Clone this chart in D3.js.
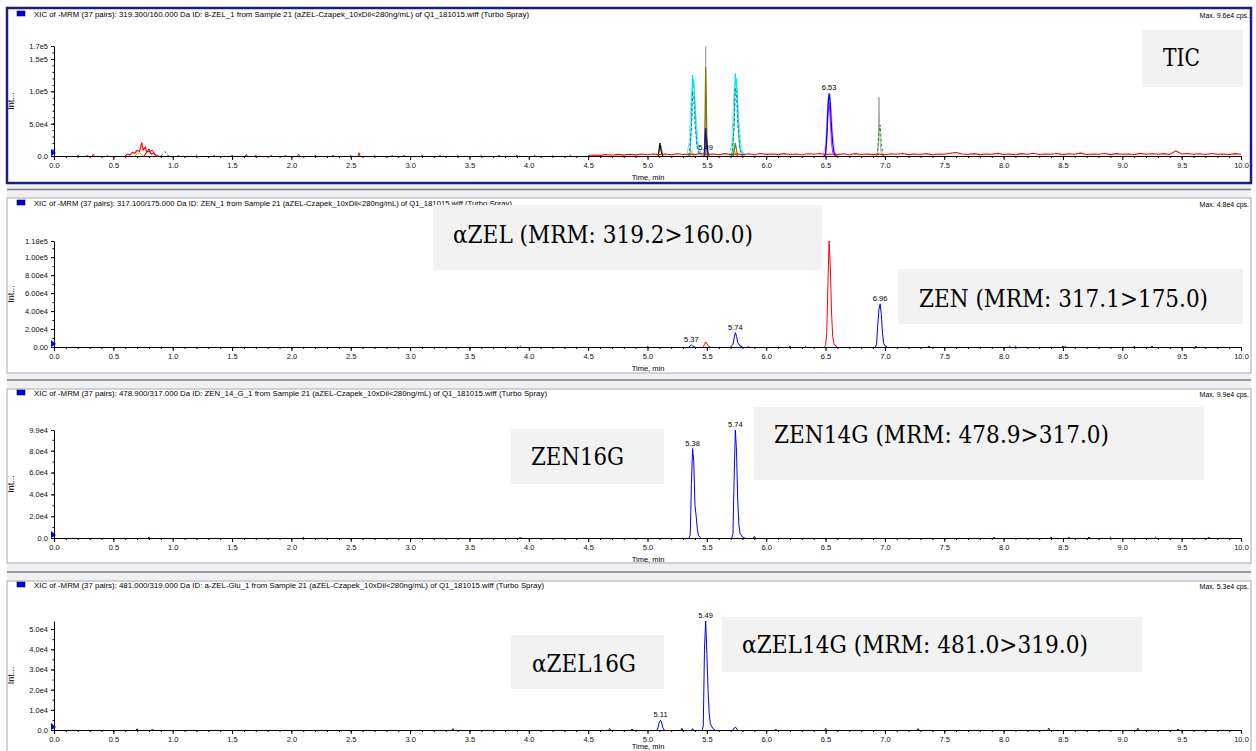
<!DOCTYPE html>
<html>
<head>
<meta charset="utf-8">
<script src="https://cdn.jsdelivr.net/npm/d3@7"></script>
<style>
body{margin:0;background:#fff}
svg{display:block}
</style>
</head>
<body>
<div id="Canvas"></div>
<script>
// ---- 資料 (讀圖估計) ----
const xMajor = [0.0,0.5,1.0,1.5,2.0,2.5,3.0,3.5,4.0,4.5,5.0,5.5,6.0,6.5,7.0,7.5,8.0,8.5,9.0,9.5,10.0]

const titles = [
  "XIC of -MRM (37 pairs): 319.300/160.000 Da ID: 8-ZEL_1 from Sample 21 (aZEL-Czapek_10xDil<280ng/mL) of Q1_181015.wiff (Turbo Spray)",
  "XIC of -MRM (37 pairs): 317.100/175.000 Da ID: ZEN_1 from Sample 21 (aZEL-Czapek_10xDil<280ng/mL) of Q1_181015.wiff (Turbo Spray)",
  "XIC of -MRM (37 pairs): 478.900/317.000 Da ID: ZEN_14_G_1 from Sample 21 (aZEL-Czapek_10xDil<280ng/mL) of Q1_181015.wiff (Turbo Spray)",
  "XIC of -MRM (37 pairs): 481.000/319.000 Da ID: a-ZEL-Glu_1 from Sample 21 (aZEL-Czapek_10xDil<280ng/mL) of Q1_181015.wiff (Turbo Spray)"
]
const maxTexts = ["Max. 9.6e4 cps.","Max. 4.8e4 cps.","Max. 9.9e4 cps.","Max. 5.3e4 cps."]

// y 軸刻度
const ticY = [0,5e4,1e5,1.5e5,1.7e5]
const ticYLabels = ["0.0","5.0e4","1.0e5","1.5e5","1.7e5"]
const zenY = [0,2e4,4e4,6e4,8e4,1e5,1.18e5]
const zenYLabels = ["0.00","2.00e4","4.00e4","6.00e4","8.00e4","1.00e5","1.18e5"]
const zen14Y = [0,2e4,4e4,6e4,8e4,9.9e4]
const zen14YLabels = ["0.0","2.0e4","4.0e4","6.0e4","8.0e4","9.9e4"]
const azel14Y = [0,1e4,2e4,3e4,4e4,5e4]
const azel14YLabels = ["0.0","1.0e4","2.0e4","3.0e4","4.0e4","5.0e4"]

// ---- TIC 各通道 [time, cps] ----
const ticRedNoise = [[4.50,800],[4.55,1500],[4.60,1000],[4.65,2200],[4.70,1200],[4.75,2500],[4.80,1400],[4.85,2800],[4.90,1800],[4.95,3000],
  [5.00,2000],[5.05,3200],[5.10,2200],[5.15,3000],[5.20,2000],[5.25,3500],[5.30,2400],[5.35,3000],[5.40,2200],[5.45,3800],
  [5.50,2600],[5.55,3200],[5.60,2000],[5.65,3600],[5.70,2400],[5.75,3000],[5.80,2200],[5.85,3400],[5.90,2000],[5.95,3800],
  [6.00,2500],[6.05,3200],[6.10,2200],[6.15,3600],[6.20,2400],[6.25,3000],[6.30,2000],[6.35,3500],[6.40,2600],[6.45,3800],
  [6.50,2400],[6.55,3000],[6.60,2200],[6.65,3400],[6.70,2000],[6.75,3600],[6.80,2400],[6.85,3200],[6.90,2200],[6.95,3000],
  [7.00,2000],[7.05,3400],[7.10,2600],[7.15,3800],[7.20,2200],[7.25,3000],[7.30,2400],[7.35,3600],[7.40,2000],[7.45,3200],
  [7.50,2600],[7.55,4200],[7.60,5500],[7.65,3000],[7.70,2400],[7.75,3600],[7.80,2200],[7.85,3000],[7.90,2600],[7.95,4000],
  [8.00,2400],[8.05,3200],[8.10,2000],[8.15,3600],[8.20,2800],[8.25,4200],[8.30,2400],[8.35,3000],[8.40,2600],[8.45,3800],
  [8.50,2200],[8.55,3400],[8.60,2800],[8.65,4400],[8.70,2400],[8.75,3200],[8.80,2600],[8.85,3800],[8.90,2200],[8.95,3600],
  [9.00,2800],[9.05,3200],[9.10,2400],[9.15,4000],[9.20,2600],[9.25,3400],[9.30,2800],[9.35,3600],[9.40,2400],[9.45,8000],
  [9.50,3000],[9.55,3800],[9.60,2600],[9.65,3400],[9.70,2400],[9.75,3800],[9.80,2800],[9.85,3200],[9.90,2400],[9.95,3600],[10.00,2600]]
const ticRedBump = [[0.60,0],[0.62,3000],[0.64,1500],[0.66,6000],[0.68,4000],[0.70,9000],[0.72,7000],[0.74,21000],[0.75,9000],
  [0.77,14000],[0.78,6000],[0.80,8000],[0.82,3000],[0.84,4000],[0.86,1000],[0.88,0]]
const ticRedSpecks = [[0.20,1200],[0.28,900],[0.33,2500],[0.45,1000],[1.05,900],[1.20,1200],[1.35,800],[1.50,1000],[1.62,2500],[1.70,900],
  [1.83,1100],[1.95,800],[2.06,3000],[2.20,1000],[2.35,900],[2.50,1200],[2.57,5000],[2.70,1000],[2.85,900],[2.95,1200],
  [3.10,900],[3.25,1300],[3.40,1000],[3.60,1200],[3.75,900],[3.90,1100],[4.05,1300],[4.20,1000],[4.35,1400]]
const ticDarkRed = [[0.76,0],[0.78,6000],[0.80,11000],[0.81,7000],[0.83,9000],[0.85,2000],[0.87,0]]
const ticGreen = [[[0.90,0],[0.92,4000],[0.935,7000],[0.95,2000],[0.97,0]],
  [[6.93,0],[6.94,10000],[6.95,38000],[6.96,48000],[6.965,35000],[6.97,20000],[6.98,6000],[6.99,0]]]
const ticYellow = [[[0.68,0],[0.70,3000],[0.72,5000],[0.74,2000],[0.76,0]],
  [[5.36,0],[5.37,9000],[5.38,4000],[5.39,0]], [[5.72,0],[5.73,10000],[5.74,5000],[5.75,0]]]
const ticLightBlue = [[[5.33,0],[5.35,20000],[5.37,100000],[5.39,110000],[5.41,60000],[5.43,15000],[5.46,0]],
  [[5.69,0],[5.71,20000],[5.73,105000],[5.75,112000],[5.77,55000],[5.79,12000],[5.82,0]],
  [[6.48,0],[6.50,20000],[6.52,92000],[6.54,95000],[6.56,40000],[6.58,5000],[6.60,0]]]
const ticCyan = [[[5.34,0],[5.36,6000],[5.37,55000],[5.375,95000],[5.38,125000],[5.385,105000],[5.39,118000],[5.40,75000],[5.41,35000],[5.42,15000],[5.44,4000],[5.46,0]],
  [[5.70,0],[5.72,9000],[5.73,60000],[5.735,100000],[5.74,128000],[5.745,110000],[5.75,120000],[5.76,70000],[5.77,30000],[5.78,12000],[5.80,3000],[5.82,0]]]
const ticTeal = [[[5.35,0],[5.37,40000],[5.38,100000],[5.39,90000],[5.40,50000],[5.42,10000],[5.44,0]],
  [[5.71,0],[5.73,45000],[5.74,105000],[5.75,95000],[5.76,50000],[5.78,8000],[5.80,0]]]
const ticOlive = [[[5.09,0],[5.10,10000],[5.11,17000],[5.12,8000],[5.13,0]],
  [[5.475,0],[5.48,8000],[5.485,60000],[5.49,138000],[5.495,90000],[5.50,30000],[5.51,5000],[5.52,0]],
  [[5.72,0],[5.73,8000],[5.74,20000],[5.75,9000],[5.76,0]]]
const ticGrey = [[[5.485,0],[5.488,60000],[5.49,169000],[5.492,60000],[5.495,0]],
  [[6.94,0],[6.945,30000],[6.95,91000],[6.955,50000],[6.96,20000],[6.97,5000],[6.98,0]]]
const ticNavy = [[5.48,0],[5.485,25000],[5.49,43000],[5.495,30000],[5.50,15000],[5.51,0]]
const ticBlack = [[5.09,0],[5.10,14000],[5.105,20000],[5.11,12000],[5.12,3000],[5.13,0]]
const ticBlue = [[6.49,0],[6.50,4000],[6.51,30000],[6.52,75000],[6.53,97000],[6.535,90000],[6.54,80000],[6.55,45000],[6.56,20000],[6.57,6000],[6.59,0]]
const ticMagenta = [[6.50,0],[6.51,20000],[6.52,60000],[6.53,84000],[6.54,55000],[6.55,20000],[6.56,5000],[6.58,0]]
const ticPeakLabels = [[6.53,97000,"6.53"],[5.49,5400,"5.49"]]

// ---- ZEN 317.1>175 (藍) 與 αZEL 319.2>160 (紅) ----
const zenRed = [[[5.47,0],[5.48,3000],[5.49,5600],[5.50,3500],[5.51,1500],[5.52,400],[5.53,0]],
  [[6.49,0],[6.50,1500],[6.51,15000],[6.52,70000],[6.53,118000],[6.54,90000],[6.55,40000],[6.56,12000],[6.57,4000],[6.58,1500],[6.60,0]]]
const zenBlue = [[[5.35,0],[5.36,1500],[5.37,2300],[5.38,1200],[5.40,0]],
  [[5.70,0],[5.72,3000],[5.73,10000],[5.74,16000],[5.75,12000],[5.76,5000],[5.78,1000],[5.80,0]],
  [[6.92,0],[6.93,3000],[6.94,25000],[6.95,42000],[6.96,48000],[6.97,36000],[6.98,15000],[6.99,4000],[7.00,1500],[7.02,0]]]
const zenSpecks = [[3.93,1000],[5.00,700],[5.85,800],[6.20,700],[6.33,800],[7.37,1200],[8.05,1000],[8.10,900],[8.50,1000],[8.52,800],[9.10,700],[9.25,800],[9.62,900]]
const zenPeakLabels = [[5.37,2300,"5.37"],[5.74,16000,"5.74"],[6.96,48000,"6.96"]]

// ---- ZEN14G 478.9>317 ----
const zen14Blue = [[[5.35,0],[5.36,3000],[5.37,50000],[5.38,82000],[5.39,70000],[5.40,30000],[5.41,20000],[5.42,8000],[5.43,2000],[5.45,0]],
  [[5.71,0],[5.72,4000],[5.73,55000],[5.74,99000],[5.75,80000],[5.76,35000],[5.77,12000],[5.78,4000],[5.80,1000],[5.82,0]]]
const zen14Specks = [[0.80,800],[2.10,700],[3.93,900],[5.90,1500],[7.92,700],[8.40,800],[8.55,700],[8.72,900],[8.90,700],[9.28,800],[9.73,700]]
const zen14PeakLabels = [[5.38,82000,"5.38"],[5.74,99000,"5.74"]]

// ---- αZEL14G 481>319 ----
const azel14Blue = [[[5.08,0],[5.09,1500],[5.10,4000],[5.11,4800],[5.12,3500],[5.13,1200],[5.14,0]],
  [[5.46,0],[5.47,2000],[5.48,40000],[5.49,54000],[5.50,38000],[5.51,20000],[5.52,8000],[5.53,3000],[5.55,800],[5.57,0]],
  [[5.72,0],[5.74,1500],[5.76,0]]]
const azel14Specks = [[0.70,600],[0.83,500],[3.36,700],[4.68,700],[4.87,500],[5.29,900],[5.38,700],[6.08,500],[6.50,800],[7.28,700],[8.38,900],[9.13,900],[9.47,500]]
const azel14PeakLabels = [[5.11,4800,"5.11"],[5.49,54000,"5.49"]]

// 標註框
const notes = ["TIC","αZEL (MRM: 319.2>160.0)","ZEN (MRM: 317.1>175.0)","ZEN16G",
  "ZEN14G (MRM: 478.9>317.0)","αZEL16G","αZEL14G (MRM: 481.0>319.0)"]
// 框的位置 (x0,y0,x1,y1, 文字x, baseline, 文字寬)
const noteBoxes = [
  [1142,30,1243,87,1163,66,37],
  [433,205,822,270,453,243,300],
  [898,269,1243,324,919,307,289],
  [511,429,664,484,531,465,93],
  [754,407,1204,480,774,443,335],
  [511,635,664,689,532,672,104],
  [722,617,1142,672,742,653,346]
]

// ---- 畫布 ----
let svg = d3.select("#Canvas").append("svg")
  .attr("width",1256).attr("height",751)
  .style("font-family","'Liberation Sans', Arial, sans-serif")

let xScale = d3.scaleLinear().domain([0,10]).range([54,1241])

// 分隔條
;[[183,198,189.5],[373,389,380],[563,581,572]].forEach(s=>{
  svg.append("rect").attr("x",7).attr("y",s[0]).attr("width",1244).attr("height",s[1]-s[0]).attr("fill","#eef0f4")
  svg.append("line").attr("x1",7).attr("x2",1251).attr("y1",s[2]).attr("y2",s[2]).attr("stroke","#7d7d7d").attr("stroke-width",1.5)
})

let panels = [
  {top:8, bottom:183, frame:"#1c1c88", fw:2.5, titleY:17, base:156, yTop:46, yMax:1.7e5, ticks:ticY, labels:ticYLabels, minor:1e4, title:titles[0], max:maxTexts[0], tl:495,
   traces:[
     {c:"#a9cff0", w:1, segs:ticLightBlue},
     {c:"#c8c800", w:1, segs:ticYellow},
     {c:"#00e5ee", w:1.2, segs:ticCyan},
     {c:"#008b8b", w:1, dash:"3,2", segs:ticTeal},
     {c:"#a8a8a8", w:1, segs:ticGrey},
     {c:"#7a7a00", w:1.2, segs:ticOlive},
     {c:"#1a1a7a", w:1.5, segs:[ticNavy]},
     {c:"#000000", w:1, segs:[ticBlack]},
     {c:"#ff00ff", w:1, segs:[ticMagenta]},
     {c:"#0000ff", w:1.2, segs:[ticBlue]},
     {c:"#2e8b2e", w:1, dash:"3,2", segs:ticGreen},
     {c:"#b00000", w:1, segs:[ticDarkRed]},
     {c:"#ff0000", w:1.1, segs:[ticRedBump, ticRedNoise]},
     {c:"#ff0000", w:1, specks:ticRedSpecks}
   ], peaks:ticPeakLabels},
  {top:198, bottom:373, frame:"#c4c4c4", fw:1.5, titleY:206, base:347, yTop:241, yMax:1.18e5, ticks:zenY, labels:zenYLabels, minor:1e4, title:titles[1], max:maxTexts[1], tl:478,
   traces:[
     {c:"#0000ff", w:1, specks:zenSpecks},
     {c:"#ff0000", w:1, segs:zenRed},
     {c:"#0000ff", w:1, segs:zenBlue}
   ], peaks:zenPeakLabels},
  {top:389, bottom:563, frame:"#c4c4c4", fw:1.5, titleY:396, base:538, yTop:430, yMax:9.9e4, ticks:zen14Y, labels:zen14YLabels, minor:1e4, title:titles[2], max:maxTexts[2], tl:513,
   traces:[
     {c:"#0000ff", w:1, specks:zen14Specks},
     {c:"#0000ff", w:1, segs:zen14Blue}
   ], peaks:zen14PeakLabels},
  {top:581, bottom:770, frame:"#c4c4c4", fw:1.5, titleY:588, base:730, yTop:621, yMax:5.4e4, ticks:azel14Y, labels:azel14YLabels, minor:5e3, title:titles[3], max:maxTexts[3], tl:510,
   traces:[
     {c:"#0000ff", w:1, specks:azel14Specks},
     {c:"#0000ff", w:1, segs:azel14Blue}
   ], peaks:azel14PeakLabels}
]

panels.forEach((p,pi)=>{
  let g = svg.append("g")
  g.append("rect").attr("x",7).attr("y",p.top).attr("width",1244).attr("height",p.bottom-p.top)
    .attr("fill","#fff").attr("stroke",p.frame).attr("stroke-width",p.fw)

  let yScale = d3.scaleLinear().domain([0,p.yMax]).range([p.base,p.yTop])

  // 標題
  g.append("rect").attr("x",17).attr("y",p.titleY-6).attr("width",8).attr("height",5)
    .attr("fill","#0000dd").attr("stroke","#00006a").attr("stroke-width",0.6)
  g.append("text").attr("x",34).attr("y",p.titleY).attr("font-size",7.2)
    .attr("textLength",p.tl).attr("lengthAdjust","spacingAndGlyphs").text(p.title)
  g.append("text").attr("x",1249).attr("y",p.titleY+1).attr("font-size",7)
    .attr("text-anchor","end").text(p.max)

  // x 軸
  g.append("g").attr("transform","translate(0,"+p.base+")")
    .call(d3.axisBottom(xScale).tickValues(xMajor).tickFormat(d3.format(".1f")).tickSize(4).tickSizeOuter(0).tickPadding(3))
  g.append("g").attr("transform","translate(0,"+p.base+")")
    .call(d3.axisBottom(xScale).ticks(100).tickFormat("").tickSize(2).tickSizeOuter(0))
    .select(".domain").remove()
  // 最下面那張會被切到, 稍微往上
  g.append("text").attr("x",648).attr("y",Math.min(p.base+24,749)).attr("font-size",7.5)
    .attr("text-anchor","middle").text("Time, min")

  // y 軸
  g.append("g").attr("transform","translate(54,0)")
    .call(d3.axisLeft(yScale).tickValues(p.ticks).tickFormat((d,i)=>p.labels[i]).tickSize(3).tickSizeOuter(0).tickPadding(3))
  g.append("g").attr("transform","translate(54,0)")
    .call(d3.axisLeft(yScale).tickValues(d3.range(0,p.yMax,p.minor)).tickFormat("").tickSize(1.5).tickSizeOuter(0))
    .select(".domain").remove()
  g.selectAll(".tick text").attr("font-size",7.5).attr("font-family","'Liberation Sans', Arial, sans-serif").attr("fill","#111")
  g.selectAll(".domain, .tick line").attr("stroke","#000")

  g.append("text").attr("transform","translate(14,"+((p.base+p.yTop)/2)+") rotate(-90)")
    .attr("font-size",9).attr("text-anchor","middle").text("Int...")

  // 原點藍色三角
  g.append("path").attr("d","M51,"+(p.base-7)+"L51,"+p.base+"L56,"+(p.base-3)+"Z").attr("fill","#0000ee")

  // 曲線
  let line = d3.line().x(d=>xScale(d[0])).y(d=>yScale(d[1]))
  p.traces.forEach(t=>{
    let segs = t.segs || t.specks.map(s=>[[s[0]-0.008,0],[s[0],s[1]],[s[0]+0.008,0]])
    g.selectAll(null).data(segs).enter().append("path")
      .attr("d",line).attr("fill","none").attr("stroke",t.c)
      .attr("stroke-width",t.w).attr("stroke-dasharray",t.dash||null)
  })

  // 峰標籤
  g.selectAll(null).data(p.peaks).enter().append("text")
    .attr("x",d=>xScale(d[0])).attr("y",d=>yScale(d[1])-3)
    .attr("font-size",7.5).attr("text-anchor","middle").text(d=>d[2])
})

// 標註框 (蓋在最上層)
notes.forEach((n,i)=>{
  let b = noteBoxes[i]
  svg.append("rect").attr("x",b[0]).attr("y",b[1]).attr("width",b[2]-b[0]).attr("height",b[3]-b[1]).attr("fill","#f2f2f2")
  svg.append("text").attr("x",b[4]).attr("y",b[5])
    .style("font-family","'DejaVu Serif'").style("font-size","25px")
    .attr("textLength",b[6]).attr("lengthAdjust","spacingAndGlyphs").text(n)
})
</script>
</body>
</html>
